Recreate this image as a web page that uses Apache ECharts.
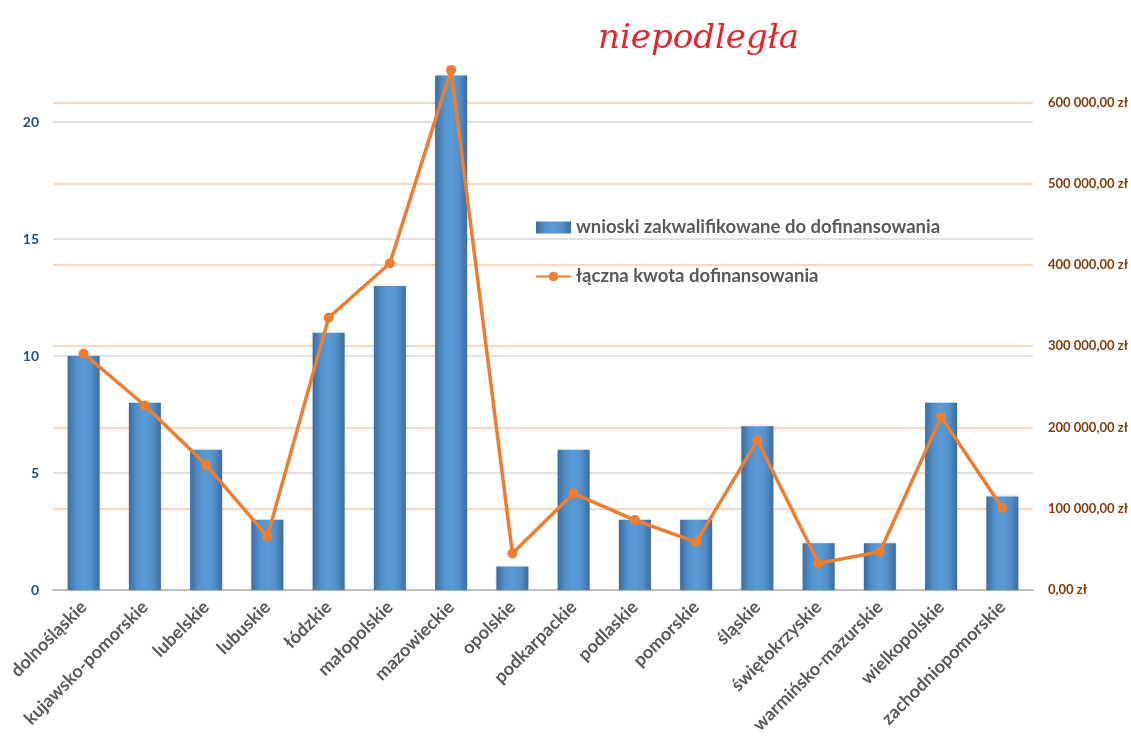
<!DOCTYPE html>
<html><head><meta charset="utf-8">
<script src="https://cdn.jsdelivr.net/npm/echarts@6/dist/echarts.min.js"></script>
<style>html,body{margin:0;padding:0;background:#fff}#c{width:1131px;height:738px}</style>
</head><body><div id="c"></div>
<script>
const categories = ['dolnośląskie','kujawsko-pomorskie','lubelskie','lubuskie','łódzkie','małopolskie','mazowieckie','opolskie','podkarpackie','podlaskie','pomorskie','śląskie','świętokrzyskie','warmińsko-mazurskie','wielkopolskie','zachodniopomorskie'];
const wnioski = [10, 8, 6, 3, 11, 13, 22, 1, 6, 3, 3, 7, 2, 2, 8, 4];
const kwota = [291000, 227000, 154000, 66000, 335000, 402000, 640000, 45000, 119000, 86000, 59000, 184000, 33000, 47000, 213000, 101000];
const seriesNames = ['wnioski zakwalifikowane do dofinansowania', 'łączna kwota dofinansowania'];
const logoText = 'niepodległa';

const chart = echarts.init(document.getElementById('c'));
const font = 'Lato, "Open Sans", sans-serif';
chart.setOption({
  animation: false,
  backgroundColor: '#fff',
  grid: { left: 53, right: 98, top: 52, bottom: 148, containLabel: false },
  legend: {
    orient: 'vertical', left: 530, top: 213, itemGap: 30,
    itemWidth: 35, itemHeight: 12,
    textStyle: { fontFamily: font, fontWeight: 'bold', fontSize: 18.5, color: '#595959' },
    data: [
      { name: seriesNames[0], icon: 'rect' },
      { name: seriesNames[1] }
    ]
  },
  graphic: [{
    type: 'text', left: 598, top: 22,
    style: { text: logoText, fontFamily: '"DejaVu Serif", serif', fontStyle: 'italic', fontSize: 34, fill: '#e3262d' }
  }],
  xAxis: {
    type: 'category', data: categories,
    axisLine: { lineStyle: { color: '#bfbfbf', width: 2 } },
    axisTick: { show: false },
    axisLabel: { rotate: 45, interval: 0, margin: 14, fontFamily: font, fontWeight: 'bold', fontSize: 18, color: '#595959' }
  },
  yAxis: [{
    type: 'value', min: 0, max: 23, interval: 5,
    axisLine: { show: false }, axisTick: { show: false },
    axisLabel: { showMaxLabel: false, margin: 14, fontFamily: font, fontWeight: 'bold', fontSize: 14, color: '#1f4e79' },
    splitLine: { showMaxLine: false, lineStyle: { color: '#d9d9d9', width: 1.5 } }
  }, {
    type: 'value', min: 0, max: 662000, interval: 100000,
    axisLine: { show: false }, axisTick: { show: false },
    axisLabel: {
      showMaxLabel: false, margin: 15, fontFamily: font, fontWeight: 'bold', fontSize: 13, color: '#843c0c',
      formatter: v => {
        const s = Math.round(v).toString().replace(/\B(?=(\d{3})+(?!\d))/g, ' ');
        return s + ',00 zł';
      }
    },
    splitLine: { showMaxLine: false, lineStyle: { color: '#f8cbad', width: 1.5 } }
  }],
  series: [{
    name: seriesNames[0], type: 'bar', yAxisIndex: 0, data: wnioski, barWidth: 32,
    itemStyle: {
      color: new echarts.graphic.LinearGradient(0, 0, 1, 0, [
        { offset: 0, color: '#3e6d9c' }, { offset: 0.25, color: '#5190cc' },
        { offset: 0.5, color: '#5b9bd5' }, { offset: 0.75, color: '#5190cc' }, { offset: 1, color: '#3e6d9c' }
      ]),
      shadowColor: 'rgba(0,0,0,0.18)', shadowBlur: 3
    }
  }, {
    name: seriesNames[1], type: 'line', yAxisIndex: 1, data: kwota,
    symbol: 'circle', symbolSize: 10,
    lineStyle: { color: '#ed7d31', width: 3.5 },
    itemStyle: { color: '#ed7d31' }
  }]
});
</script></body></html>
